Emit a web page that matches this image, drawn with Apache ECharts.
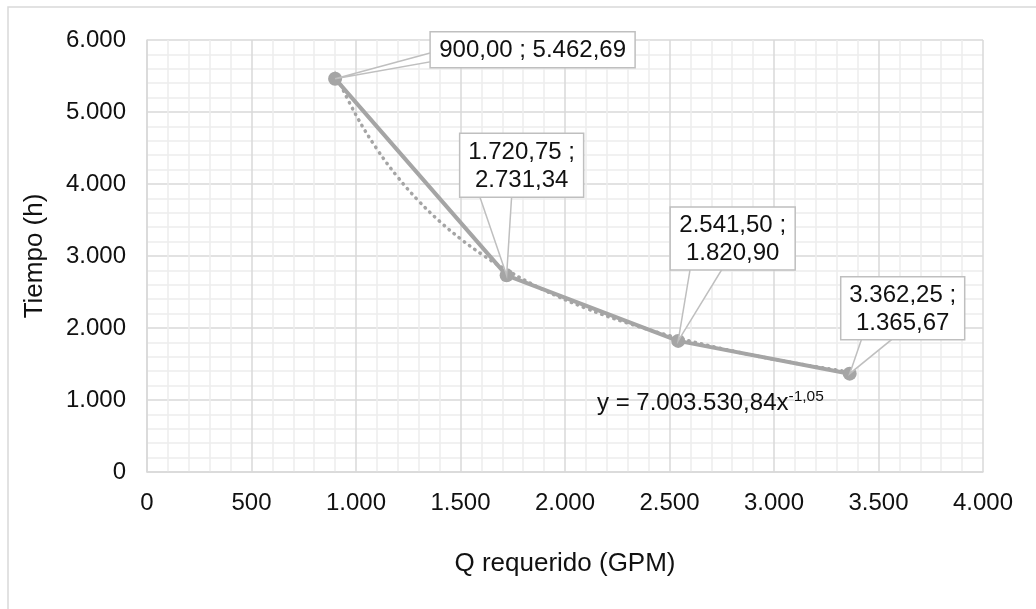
<!DOCTYPE html>
<html>
<head>
<meta charset="utf-8">
<script src="https://cdn.jsdelivr.net/npm/echarts@6/dist/echarts.min.js"></script>
<style>
html,body{margin:0;padding:0;background:#fff;}
#c{width:1036px;height:609px;}
</style>
</head>
<body>
<div id="c"></div>
<script>
// ---- data ----
const qValues = [900.00, 1720.75, 2541.50, 3362.25];
const tValues = [5462.69, 2731.34, 1820.90, 1365.67];
// dotted power trend line
const trendX = [900, 1000, 1100, 1200, 1300, 1400, 1500, 1600, 1720, 1900, 2100, 2300, 2541.5, 2800, 3100, 3362.25];
const trendY = [5538, 4958, 4486, 4094, 3764, 3482, 3239, 3027, 2806, 2527, 2275, 2068, 1862, 1682, 1512, 1388];
const xTicks = [0, 500, 1000, 1500, 2000, 2500, 3000, 3500, 4000];
const yTicks = [0, 1000, 2000, 3000, 4000, 5000, 6000];
const equationMain = 'y = 7.003.530,84x';
const equationExp = '-1,05';
const xName = 'Q requerido (GPM)';
const yName = 'Tiempo (h)';

// ---- callout layout (pixel offsets from the point) ----
const calloutLayout = [
  {dx: 95, dy: -47, w: 205, h: 36, side: 'left', a: -26, b: -17, wrap: false},
  {dx: -47, dy: -142, w: 124, h: 64, side: 'bottom', a: -27, b: 5, wrap: true},
  {dx: -8, dy: -134, w: 125, h: 63, side: 'bottom', a: 12, b: 44, wrap: true},
  {dx: -9, dy: -97, w: 124, h: 63, side: 'bottom', a: 12, b: 43, wrap: true}
];

const FONT = '"Liberation Sans", Arial, sans-serif';
function fmt(v, d) {
  const s = v.toFixed(d);
  let [ip, dp] = s.split('.');
  ip = ip.replace(/\B(?=(\d{3})+(?!\d))/g, '.');
  return dp !== undefined ? ip + ',' + dp : ip;
}

const mainData = qValues.map((q, i) => [q, tValues[i]]);
const trendData = trendX.map((x, i) => [x, trendY[i]]);

const chart = echarts.init(document.getElementById('c'), null, {renderer: 'canvas'});
const gridColor = '#d9d9d9';
const minorColor = '#ededed';
const seriesColor = '#a5a5a5';

chart.setOption({
  animation: false,
  backgroundColor: '#fff',
  grid: {left: 147, right: 53, top: 40, bottom: 137, containLabel: false},
  xAxis: {
    type: 'value', min: xTicks[0], max: xTicks[xTicks.length - 1], interval: 500,
    name: xName, nameLocation: 'middle', nameGap: 79,
    nameTextStyle: {fontFamily: FONT, fontSize: 26, color: '#111'},
    axisLine: {show: true, lineStyle: {color: gridColor, width: 1.5}},
    axisTick: {show: false},
    axisLabel: {fontFamily: FONT, fontSize: 24, color: '#111', margin: 19, formatter: v => fmt(v, 0)},
    splitLine: {show: true, lineStyle: {color: gridColor, width: 1.5}},
    minorTick: {show: false, splitNumber: 5},
    minorSplitLine: {show: true, lineStyle: {color: minorColor, width: 1.5}}
  },
  yAxis: {
    type: 'value', min: yTicks[0], max: yTicks[yTicks.length - 1], interval: 1000,
    name: yName, nameLocation: 'middle', nameGap: 99, nameRotate: 90,
    nameTextStyle: {fontFamily: FONT, fontSize: 26, color: '#111'},
    axisLine: {show: true, lineStyle: {color: gridColor, width: 1.5}},
    axisTick: {show: false},
    axisLabel: {fontFamily: FONT, fontSize: 24, color: '#111', margin: 21, formatter: v => fmt(v, 0)},
    splitLine: {show: true, lineStyle: {color: gridColor, width: 1.5}},
    minorTick: {show: false, splitNumber: 5},
    minorSplitLine: {show: true, lineStyle: {color: minorColor, width: 1.5}}
  },
  graphic: [
    {type: 'rect', silent: true, z: -10, shape: {x: 8, y: 7, width: 1040, height: 620},
     style: {fill: 'none', stroke: '#d9d9d9', lineWidth: 1.5}},
    {type: 'text', z: 50, left: 597, top: 389,
     style: {
       text: '{a|' + equationMain + '}{b|' + equationExp + '}',
       rich: {
         a: {fontFamily: FONT, fontSize: 24, fill: '#111', color: '#111'},
         b: {fontFamily: FONT, fontSize: 15.5, fill: '#111', color: '#111', padding: [0, 0, 12, 0]}
       }
     }}
  ],
  series: [
    {
      type: 'line', name: 'trend', data: trendData, smooth: 0.4, symbol: 'none', z: 2,
      lineStyle: {color: seriesColor, width: 3.5, type: [0.5, 6], cap: 'round'}
    },
    {
      type: 'line', name: 'Tiempo', data: mainData, symbol: 'circle', symbolSize: 14, z: 3,
      itemStyle: {color: seriesColor},
      lineStyle: {color: seriesColor, width: 4}
    },
    {
      type: 'custom', name: 'callouts', data: mainData, z: 10,
      renderItem: function (params, api) {
        const i = params.dataIndex;
        const p = api.coord([api.value(0), api.value(1)]);
        const L = calloutLayout[i];
        const bx = p[0] + L.dx, by = p[1] + L.dy;
        let pts;
        if (L.side === 'left') {
          pts = [[p[0], p[1]], [bx + 1, p[1] + L.a], [bx + 1, p[1] + L.b]];
        } else {
          pts = [[p[0], p[1]], [p[0] + L.a, by + L.h - 1], [p[0] + L.b, by + L.h - 1]];
        }
        const txt = fmt(qValues[i], 2) + ' ;' + (L.wrap ? '\n' : ' ') + fmt(tValues[i], 2);
        return {
          type: 'group',
          children: [
            {type: 'polygon', shape: {points: pts}, style: {fill: '#fff', stroke: '#bfbfbf', lineWidth: 1.5}},
            {type: 'rect', shape: {x: bx, y: by, width: L.w, height: L.h}, style: {fill: '#fff', stroke: '#bfbfbf', lineWidth: 1.5}},
            {type: 'text', style: {
              text: txt, x: bx + L.w / 2, y: by + L.h / 2 + 1,
              align: 'center', verticalAlign: 'middle',
              textAlign: 'center', textVerticalAlign: 'middle',
              fontFamily: FONT, fontSize: 24, lineHeight: 28, fill: '#111'
            }}
          ]
        };
      }
    }
  ]
});
</script>
</body>
</html>
